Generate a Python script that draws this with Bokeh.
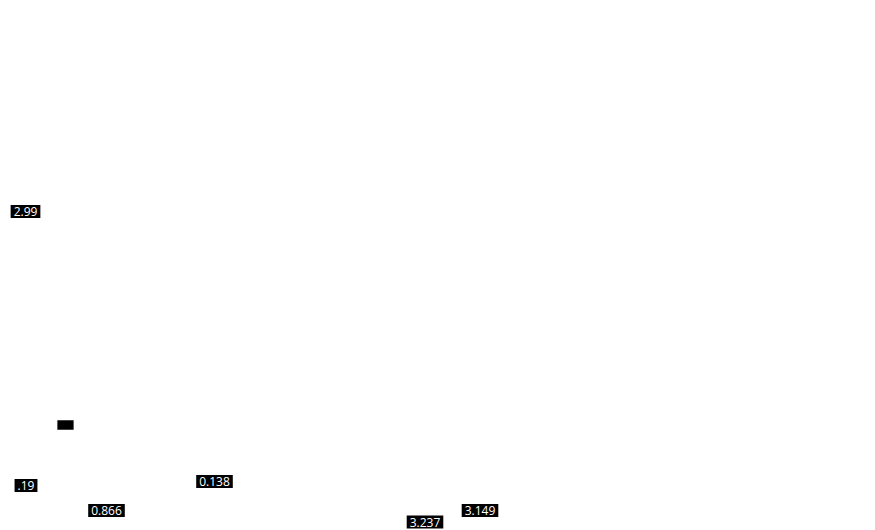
from bokeh.embed import file_html
from bokeh.models import Label, Range1d
from bokeh.plotting import figure
from bokeh.resources import INLINE

# label positions (canvas pixels, y measured from top) and their texts
xs = [25, 65, 25.5, 214, 106, 424.5, 479.5]
ys = [211, 424.5, 485, 481, 510, 521.5, 510]
texts = ["2.99", "", ".19", "0.138", "0.866", "3.237", "3.149"]

W, H = 859, 530

p = figure(width=W, height=H, output_backend="svg", toolbar_location=None,
           x_range=Range1d(0, W), y_range=Range1d(H, 0), min_border=0)
p.axis.visible = False
p.grid.grid_line_color = None
p.outline_line_color = None
p.background_fill_color = "white"
p.border_fill_color = "white"

for x, y, t in zip(xs, ys, texts):
    lab = Label(x=x, y=y, text=t if t else " ",
                text_align="center", text_baseline="middle",
                text_font="Open Sans", text_font_size="12px" if t else "1px",
                text_color="white",
                background_fill_color="black", background_fill_alpha=1.0,
                padding=(3, 2) if t else (8, 4))
    p.add_layout(lab)

open("out.html", "w").write(file_html(p, INLINE))
